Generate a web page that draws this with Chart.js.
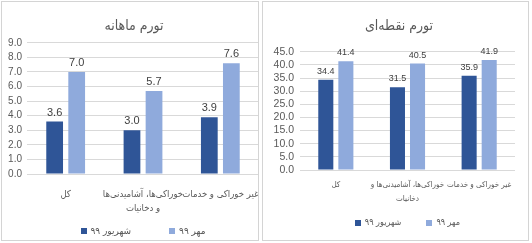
<!DOCTYPE html>
<html>
<head>
<meta charset="utf-8">
<script src="https://cdn.jsdelivr.net/npm/chart.js@4"></script>
<style>
  body { margin: 0; background: #fff; }
  .panel { position: absolute; top: 1px; height: 240px; box-sizing: border-box; border: 1px solid #d4d4d4; overflow: hidden; background: #fff; }
  #left { left: 1px; width: 258px; }
  #right { left: 262px; width: 267px; }
  canvas { position: absolute; left: 0; top: 0; }
</style>
</head>
<body>
<div class="panel" id="left"><canvas id="monthly" width="264" height="238"></canvas></div>
<div class="panel" id="right"><canvas id="pointwise" width="265" height="238"></canvas></div>
<script>
// Data
const monthlyLabels = ['کل', ['خوراکی‌ها، آشامیدنی‌ها', 'و دخانیات'], 'غیر خوراکی و خدمات'];
const pointLabels = ['کل', ['خوراکی‌ها، آشامیدنی‌ها و', 'دخانیات'], 'غیر خوراکی و خدمات'];
const seriesNames = ['شهریور ۹۹', 'مهر ۹۹'];
const monthlyShahrivar = [3.6, 3.0, 3.9];
const monthlyMehr = [7.0, 5.7, 7.6];
const pointShahrivar = [34.4, 31.5, 35.9];
const pointMehr = [41.4, 40.5, 41.9];
const monthlyAxis = [0, 9, 1];   // min, max, step
const pointAxis = [0, 45, 5];

const FONT = "'Liberation Sans', 'DejaVu Sans Condensed', 'DejaVu Sans', sans-serif";
const DARK = '#2f5597';
const LIGHT = '#8faadc';
const TEXT = '#595959';

Chart.defaults.font.family = FONT;
Chart.defaults.color = TEXT;

// values above the bars
const valueLabels = {
  id: 'valueLabels',
  afterDatasetsDraw(chart, args, opts) {
    const ctx = chart.ctx;
    ctx.save();
    ctx.font = `${opts.size}px ${FONT}`;
    ctx.fillStyle = '#404040';
    ctx.textAlign = 'center';
    ctx.textBaseline = 'alphabetic';
    chart.data.datasets.forEach((ds, i) => {
      chart.getDatasetMeta(i).data.forEach((bar, j) => {
        ctx.fillText(ds.data[j].toFixed(1), bar.x, bar.y - 6);
      });
    });
    ctx.restore();
  }
};

// title position inside the frame
const placeTitle = {
  id: 'placeTitle',
  afterLayout(chart, args, opts) {
    const t = chart.titleBlock;
    const dx = opts.x - (t.left + t.right) / 2;
    t.left += dx;
    t.right += dx;
  }
};

// Excel style legend: small squares, centred under the plot area
const bottomLegend = {
  id: 'bottomLegend',
  afterDraw(chart, args, opts) {
    const ctx = chart.ctx;
    const box = 6, gap = 4;
    ctx.save();
    ctx.font = `${opts.size}px ${FONT}`;
    ctx.textBaseline = 'middle';
    ctx.textAlign = 'left';
    const items = chart.data.datasets.map(ds => ({ ds, w: ctx.measureText(ds.label).width }));
    const total = items.reduce((s, it) => s + box + gap + it.w, 0) + opts.spacing * (items.length - 1);
    const area = chart.chartArea;
    let x = (area.left + area.right) / 2 - total / 2;
    items.forEach(it => {
      ctx.fillStyle = it.ds.backgroundColor;
      ctx.fillRect(Math.round(x), Math.round(opts.y - box / 2), box, box);
      x += box + gap;
      ctx.fillStyle = TEXT;
      ctx.fillText(it.ds.label, x, opts.y);
      x += it.w + opts.spacing;
    });
    ctx.restore();
  }
};

function makeChart(id, title, labels, a, b, axis, s) {
  return new Chart(document.getElementById(id), {
    type: 'bar',
    data: {
      labels,
      datasets: [
        { label: seriesNames[0], data: a, backgroundColor: DARK,
          categoryPercentage: s.cp, barPercentage: s.bp },
        { label: seriesNames[1], data: b, backgroundColor: LIGHT,
          categoryPercentage: s.cp, barPercentage: s.bp },
      ],
    },
    options: {
      responsive: false,
      animation: false,
      devicePixelRatio: 1,
      layout: { padding: { left: 0, right: s.padR, top: 0, bottom: s.padB } },
      scales: {
        x: {
          grid: { display: false },
          border: { display: false },
          ticks: { color: TEXT, padding: s.xPad, maxRotation: 0, autoSkip: false,
                   font: { size: s.xFont, lineHeight: s.xLine } },
          afterFit(scale) {
            scale.height = s.xH;
            scale.paddingLeft = 0;
            scale.paddingRight = 0;
          },
        },
        y: {
          min: axis[0],
          max: axis[1],
          grid: { color: '#d9d9d9', drawTicks: false },
          border: { display: false },
          ticks: { stepSize: axis[2], autoSkip: false, padding: s.yPad, color: TEXT,
                   font: { size: s.yFont }, callback: v => Number(v).toFixed(1) },
          afterFit(scale) { scale.width = s.yW; },
        },
      },
      plugins: {
        title: { display: true, text: title, color: TEXT,
                 font: { size: 14, weight: 'normal' }, padding: { top: 16, bottom: s.titleB } },
        legend: { display: false },
        tooltip: { enabled: false },
        valueLabels: { size: s.valFont },
        placeTitle: { x: s.titleX },
        bottomLegend: { y: s.legY, size: s.legFont, spacing: s.legGap },
      },
    },
    plugins: [valueLabels, placeTitle, bottomLegend],
  });
}

makeChart('monthly', 'تورم ماهانه', monthlyLabels, monthlyShahrivar, monthlyMehr, monthlyAxis, {
  cp: 0.57, bp: 0.76, padR: 7, padB: 22, yW: 25, yPad: 5, yFont: 10,
  xH: 44, xPad: 5, xFont: 9.5, xLine: 1.5, titleB: 8, titleX: 132,
  legY: 229, legFont: 10, legGap: 38, valFont: 11,
});

makeChart('pointwise', 'تورم نقطه‌ای', pointLabels, pointShahrivar, pointMehr, pointAxis, {
  cp: 0.56, bp: 0.75, padR: 13, padB: 34, yW: 37, yPad: 6, yFont: 10.5,
  xH: 36, xPad: 0, xFont: 8, xLine: 1.75, titleB: 17, titleX: 136,
  legY: 221, legFont: 9, legGap: 25, valFont: 9,
});
</script>
</body>
</html>
